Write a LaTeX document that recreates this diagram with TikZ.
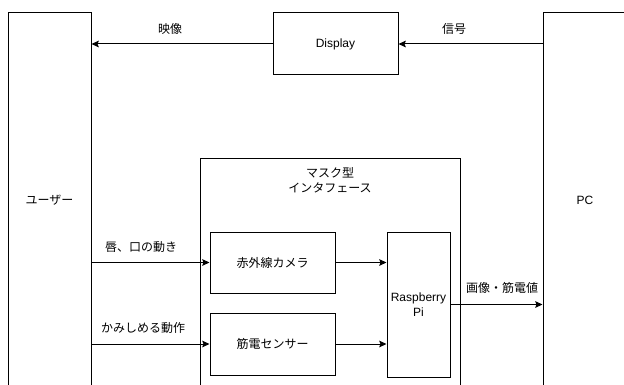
\documentclass[tikz,border=0pt]{standalone}
\usepackage{fontspec}
\setmainfont{Liberation Sans}
\newfontfamily\jp{Noto Sans CJK JP}
\usetikzlibrary{arrows.meta}
\tikzset{
  box/.style={draw, line width=0.75pt, inner sep=0pt, font=\fontsize{9pt}{11pt}\selectfont, align=center},
  lbl/.style={inner sep=0pt, font=\jp\fontsize{9pt}{11pt}\selectfont, align=center},
  conn/.style={line width=0.75pt, -{Stealth[length=5.5pt,width=5pt,inset=1pt]}}
}
\begin{document}
\begin{tikzpicture}[x=0.75pt,y=-0.75pt]
\path[use as bounding box] (0,0) rectangle (624,385);
\clip (0,0) rectangle (624,385);
\fill[white] (0,0) rectangle (624,385);
% big boxes
\node[box, minimum width=62.25pt, minimum height=280.5pt, font=\jp\fontsize{9pt}{11pt}\selectfont] (user) at (49.5,200) {ユーザー};
\node[box, minimum width=63pt, minimum height=280.5pt] (pc) at (585,200) {PC};
\node[box, minimum width=93.75pt, minimum height=46.5pt] (disp) at (335.5,44) {Display};
\node[box, minimum width=195pt, minimum height=180pt, anchor=north west] (mask) at (200,158) {};
\node[lbl] (masklbl) at (330,180.5) {マスク型\\インタフェース};
\node[box, minimum width=93.75pt, minimum height=45.75pt, font=\jp\fontsize{9pt}{11pt}\selectfont] (cam) at (272.5,262.5) {赤外線カメラ};
\node[box, minimum width=93.75pt, minimum height=46.5pt, font=\jp\fontsize{9pt}{11pt}\selectfont] (emg) at (272.5,344) {筋電センサー};
\node[box, minimum width=47.25pt, minimum height=108.75pt] (pi) at (418.5,304.5) {Raspberry\\Pi};
% connectors
\draw[conn] (disp.west) -- (disp.west -| user.east);
\draw[conn] (pc.west |- disp.east) -- (disp.east);
\draw[conn] (cam.west -| user.east) -- (cam.west);
\draw[conn] (emg.west -| user.east) -- (emg.west);
\draw[conn] (cam.east) -- (cam.east -| pi.west);
\draw[conn] (emg.east) -- (emg.east -| pi.west);
\draw[conn] (pi.east) -- (pi.east -| pc.west);
% labels
\node[lbl] (l1) at (170,29) {映像};
\node[lbl] (l2) at (454,29) {信号};
\node[lbl] (l3) at (141,247) {唇、口の動き};
\node[lbl] (l4) at (143,328) {かみしめる動作};
\node[lbl] (l5) at (502,288) {画像・筋電値};
\end{tikzpicture}
\end{document}
